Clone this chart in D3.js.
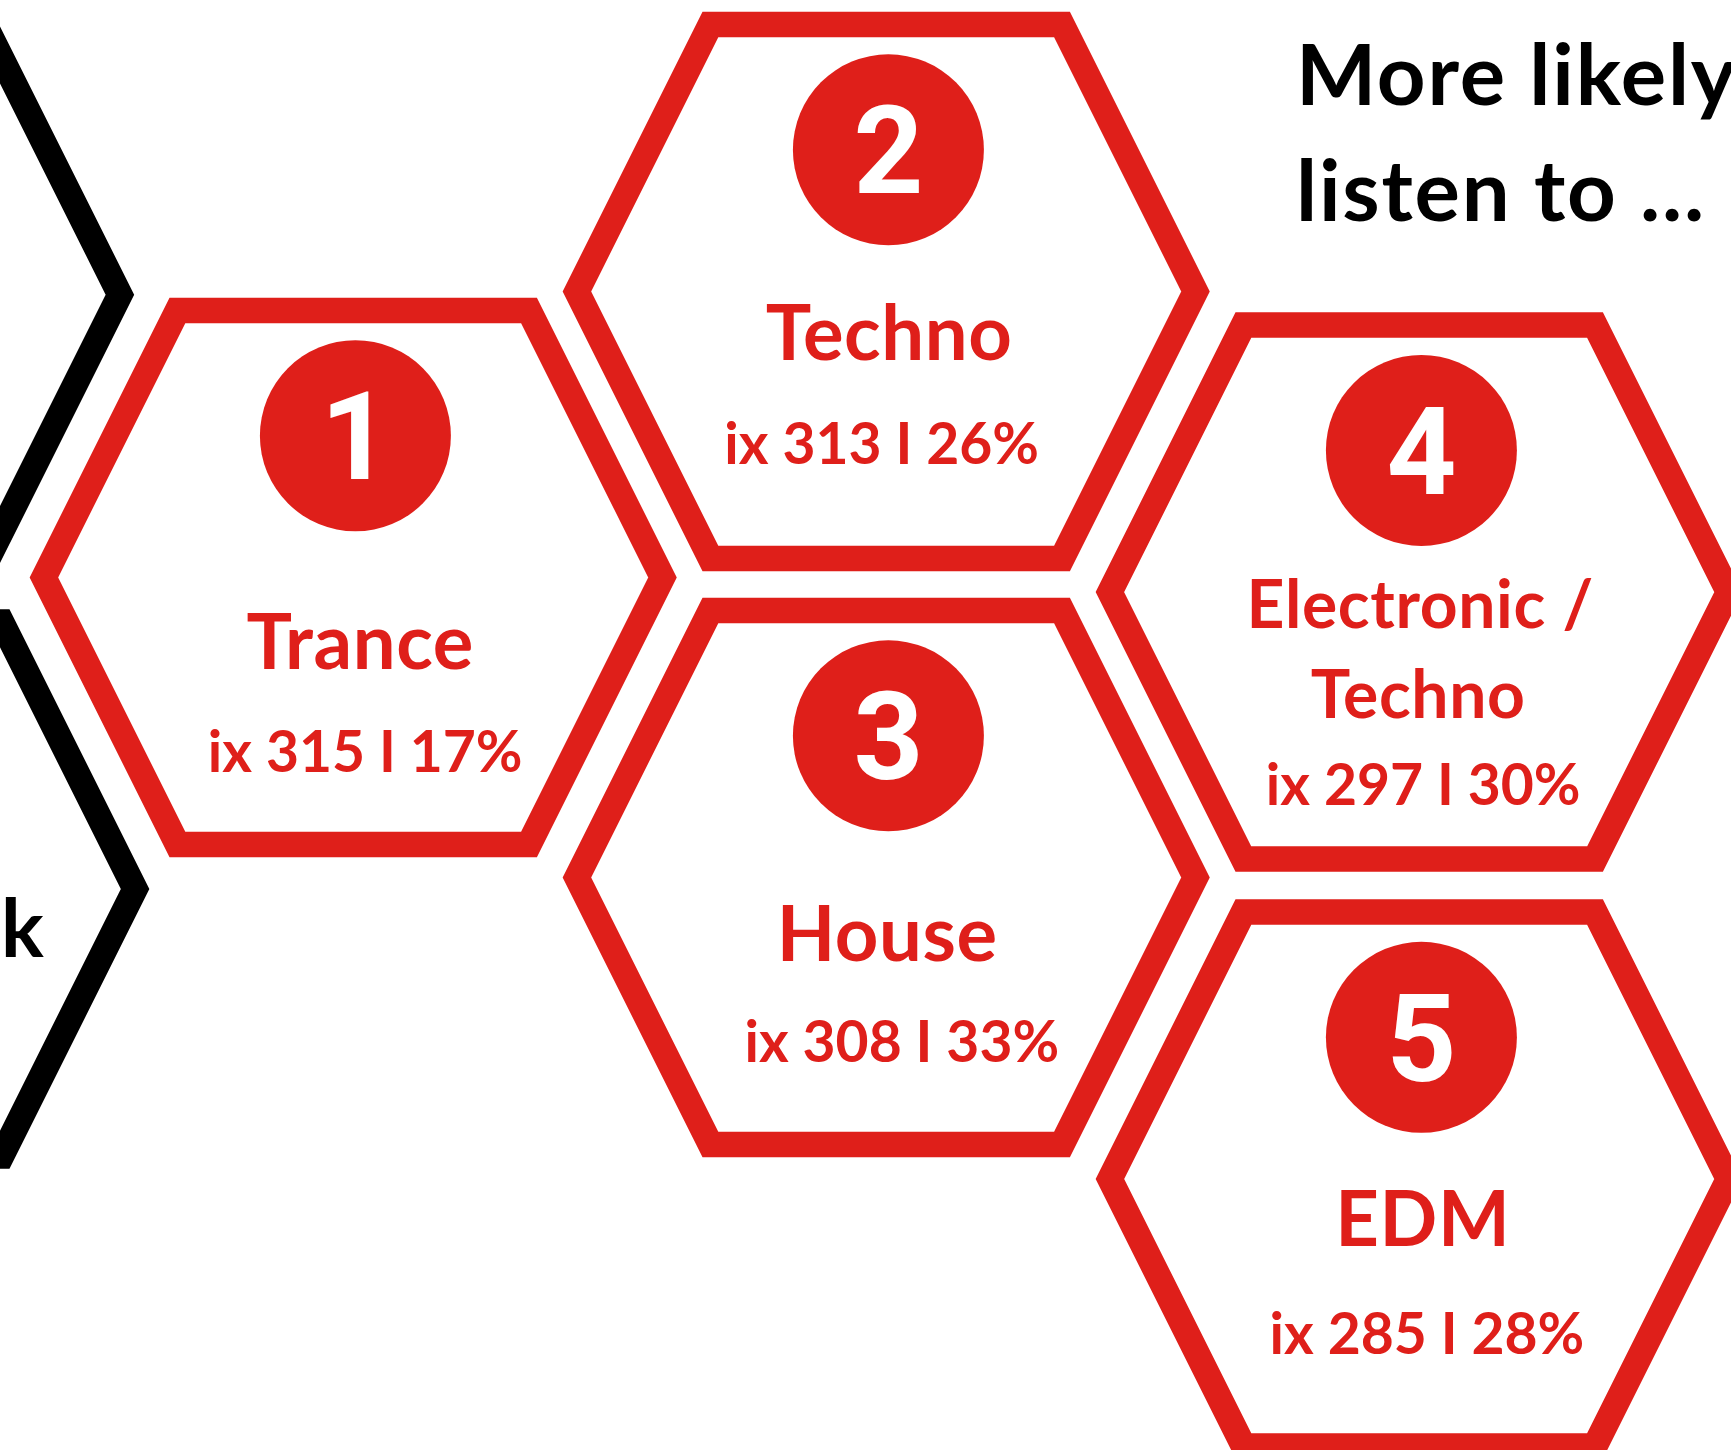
<!DOCTYPE html>
<html>
<head>
<meta charset="utf-8">
<script src="https://cdn.jsdelivr.net/npm/d3@7/dist/d3.min.js"></script>
<style>
  html, body { margin: 0; padding: 0; background: #fff; overflow: hidden; }
</style>
</head>
<body>
<div id="chart"></div>
<script>
'use strict';

// ---- data ----
const ranks = [1, 2, 3, 4, 5];
const genres = [["Trance"], ["Techno"], ["House"], ["Electronic /", "Techno"], ["EDM"]];
const indexValues = [315, 313, 308, 297, 285];
const shares = [17, 26, 33, 30, 28];
const titleLines = ["More likely", "listen to ..."];
const leftLabel = "k";

// ---- layout (grid units / offsets, not data) ----
const hexLayout = [
    {col: 0, row: 0.488,  lines: [91.5],        dx: [7],     statY: 195,   statDx: 12,   small: false},
    {col: 1, row: 0,      lines: [68.2],        dx: [3],     statY: 172.7, statDx: -4.5, small: false},
    {col: 1, row: 1,      lines: [83.3],        dx: [1],     statY: 184,   statDx: 15.6, small: false},
    {col: 2, row: 0.513,  lines: [35.7, 125.7], dx: [1, -1], statY: 213,   statDx: 4,    small: true},
    {col: 2, row: 1.5145, lines: [67.5],        dx: [3.6],   statY: 174.6, statDx: 7.7,  small: false}
];
const blackHexes = [{col: -1.018, row: 0.0055}, {col: -0.9895, row: 1.0196}];

const width = 1731, height = 1450;
const red = "#df1f1a";
const strokeW = 25.5;

const svg = d3.select("#chart").append("svg")
    .attr("width", width)
    .attr("height", height)
    .style("display", "block");

const xScale = d3.scaleLinear().domain([0, 1]).range([353.2, 886.2]);
const yScale = d3.scaleLinear().domain([0, 1]).range([291.5, 877.5]);

// hexagon outline (stroke centre line), stretched shape
const halfW = 309.3, halfH = 267, halfTop = 175.8;
const hexPts = [[-halfTop, -halfH], [halfTop, -halfH], [halfW, 0], [halfTop, halfH], [-halfTop, halfH], [-halfW, 0]];
const hexLine = d3.line().curve(d3.curveLinearClosed);

// black partial hexagons on the left
svg.selectAll(".black-hex").data(blackHexes).enter()
    .append("path")
    .attr("class", "black-hex")
    .attr("transform", d => "translate(" + xScale(d.col) + "," + yScale(d.row) + ")")
    .attr("d", hexLine(hexPts))
    .attr("fill", "none")
    .attr("stroke", "#000")
    .attr("stroke-width", strokeW)
    .attr("stroke-linejoin", "miter");

svg.append("text")
    .attr("x", 1)
    .attr("y", 957)
    .attr("font-family", "Lato, sans-serif")
    .attr("font-weight", 700)
    .attr("font-size", 80)
    .attr("fill", "#000")
    .text(leftLabel);

const items = ranks.map((r, i) => ({
    rank: r,
    genre: genres[i],
    ix: indexValues[i],
    share: shares[i],
    pos: hexLayout[i]
}));

const cells = svg.selectAll(".cell").data(items).enter()
    .append("g")
    .attr("class", "cell")
    .attr("transform", d => "translate(" + xScale(d.pos.col) + "," + yScale(d.pos.row) + ")");

cells.append("path")
    .attr("d", hexLine(hexPts))
    .attr("fill", "none")
    .attr("stroke", red)
    .attr("stroke-width", strokeW)
    .attr("stroke-linejoin", "miter");

cells.append("circle")
    .attr("cx", 2.2)
    .attr("cy", -141.7)
    .attr("r", 95.5)
    .attr("fill", red);

cells.append("text")
    .attr("x", 2.2)
    .attr("y", -141.7 + 43.5)
    .attr("text-anchor", "middle")
    .attr("font-family", "Roboto, sans-serif")
    .attr("font-weight", 700)
    .attr("font-size", 122)
    .attr("fill", "#fff")
    .text(d => d.rank);

cells.each(function (d) {
    const g = d3.select(this);
    d.genre.forEach((line, k) => {
        g.append("text")
            .attr("x", d.pos.dx[k])
            .attr("y", d.pos.lines[k])
            .attr("text-anchor", "middle")
            .attr("font-family", "Lato, sans-serif")
            .attr("font-weight", 700)
            .attr("font-size", d.pos.small ? 66 : 76)
            .attr("letter-spacing", 0.6)
            .attr("fill", red)
            .text(line);
    });
    g.append("text")
        .attr("x", d.pos.statDx)
        .attr("y", d.pos.statY)
        .attr("text-anchor", "middle")
        .attr("font-family", "Lato, sans-serif")
        .attr("font-weight", 700)
        .attr("font-size", 57)
        .attr("fill", red)
        .text("ix " + d.ix + " I " + d.share + "%");
});

// title
svg.selectAll(".title").data(titleLines).enter()
    .append("text")
    .attr("class", "title")
    .attr("x", 1296)
    .attr("y", (d, i) => 105 + i * 115.6)
    .attr("font-family", "Lato, sans-serif")
    .attr("font-weight", 700)
    .attr("font-size", 85)
    .attr("letter-spacing", 1.8)
    .attr("fill", "#000")
    .text(d => d);
</script>
</body>
</html>
